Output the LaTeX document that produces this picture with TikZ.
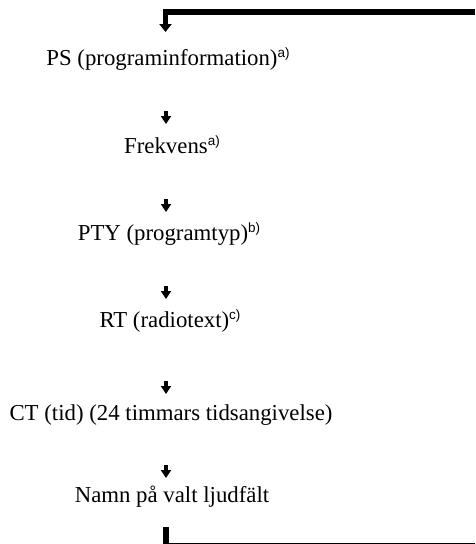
\documentclass[tikz,border=0pt]{standalone}
\usepackage{fontspec}
\setmainfont{Liberation Serif}
\newfontfamily\supfont{Liberation Sans}
\usetikzlibrary{arrows.meta,calc}
\newcommand\supx[1]{\raisebox{7.5pt}{\supfont\fontsize{13.5}{13.5}\selectfont #1}}
\tikzset{
  item/.style={anchor=base, inner sep=0pt, font=\fontsize{22.8}{27}\selectfont},
  smallarr/.style={line width=4pt, -{Triangle[width=10pt,length=8pt]}},
  looparr/.style={line width=5.5pt, -{Triangle[width=12pt,length=8pt]}},
}
\begin{document}
\begin{tikzpicture}[x=1pt,y=-1pt]
\useasboundingbox (0,0) rectangle (475,544);
\node[item] (ps) at (168,65) {PS (programinformation)\supx{a)}};
\node[item] (fr) at (172,153) {Frekvens\supx{a)}};
\node[item] (pty) at (169,240) {PTY (programtyp)\supx{b)}};
\node[item] (rt) at (170,327) {RT (radiotext)\supx{c)}};
\node[item] (ct) at (171,420) {CT (tid) (24 timmars tidsangivelse)};
\node[item] (nm) at (172,502) {Namn på valt ljudfält};
\coordinate (ax) at (166,0);
% small arrows between items
\draw[smallarr] ($(ps.base -| ax)+(0,46)$) -- ($(fr.base -| ax)+(0,-29)$);
\draw[smallarr] ($(fr.base -| ax)+(0,46)$) -- ($(pty.base -| ax)+(0,-28)$);
\draw[smallarr] ($(pty.base -| ax)+(0,46)$) -- ($(rt.base -| ax)+(0,-28)$);
\draw[smallarr] ($(rt.base -| ax)+(0,54)$) -- ($(ct.base -| ax)+(0,-26)$);
\draw[smallarr] ($(ct.base -| ax)+(0,45)$) -- ($(nm.base -| ax)+(0,-24)$);
% loop connector
\coordinate (topR) at (475,12);
\coordinate (topC) at (165.5,12);
\coordinate (topT) at (165.5,32);
\draw[looparr] (topR) -- (topC) -- (topT);
\coordinate (botB) at (166,527);
\coordinate (botC) at (166,543);
\coordinate (botR) at (475,543);
\draw[line width=6pt] (botB) -- (botC);
\draw[line width=1pt] ([xshift=-3pt]botC) -- (botR);
\end{tikzpicture}
\end{document}
